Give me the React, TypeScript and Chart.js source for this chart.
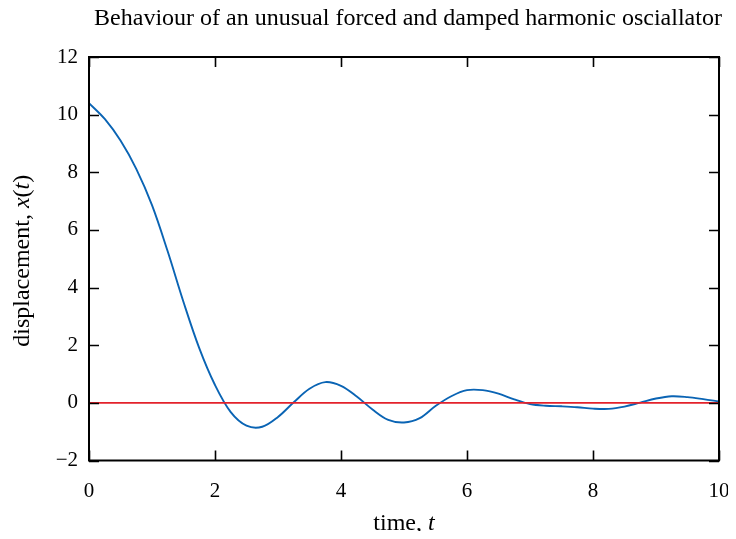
import React, { useEffect, useRef } from "react";
import { Chart, registerables } from "chart.js";

Chart.register(...registerables);

const TITLE = "Behaviour of an unusual forced and damped harmonic osciallator";
const timeValues = [0, 0.25, 0.5, 0.75, 1.0, 1.25, 1.5, 1.75, 2.0, 2.25, 2.5, 2.75, 3.0, 3.25, 3.5, 3.75, 4.0, 4.25, 4.5, 4.75, 5.0, 5.25, 5.5, 5.75, 6.0, 6.25, 6.5, 6.75, 7.0, 7.25, 7.5, 7.75, 8.0, 8.25, 8.5, 8.75, 9.0, 9.25, 9.5, 9.75, 10];
const displacement = [10.4, 9.85, 9.1, 8.12, 6.86, 5.25, 3.5, 1.9, 0.62, -0.32, -0.79, -0.83, -0.49, 0.02, 0.49, 0.72, 0.59, 0.22, -0.23, -0.59, -0.68, -0.53, -0.11, 0.23, 0.44, 0.44, 0.32, 0.12, -0.04, -0.1, -0.12, -0.15, -0.2, -0.21, -0.13, 0.01, 0.15, 0.23, 0.2, 0.13, 0.05];
const equilibriumT = [0, 10];
const equilibriumX = [0, 0];
const xTicks = [0, 2, 4, 6, 8, 10];
const yTicks = [-2, 0, 2, 4, 6, 8, 10, 12];

const FONT = "'Liberation Serif', 'Times New Roman', serif";
const FS = 21;
const TFS = 24;

type Seg = { t: string; it?: boolean };

function drawSegs(ctx: CanvasRenderingContext2D, segs: Seg[], size: number) {
  let total = 0;
  const widths = segs.map((s) => {
    ctx.font = `${s.it ? "italic " : ""}${size}px ${FONT}`;
    const w = ctx.measureText(s.t).width;
    total += w;
    return w;
  });
  let x = -total / 2;
  segs.forEach((s, i) => {
    ctx.font = `${s.it ? "italic " : ""}${size}px ${FONT}`;
    ctx.fillText(s.t, x, 0);
    x += widths[i];
  });
}

const framePlugin = {
  id: "frame",
  afterDatasetsDraw(chart: any) {
    const { ctx, chartArea: a, scales } = chart;
    ctx.save();
    ctx.strokeStyle = "#000";
    ctx.lineWidth = 1.6;
    const tl = 10;
    xTicks.forEach((v) => {
      const px = Math.round(scales.x.getPixelForValue(v)) + 0.5;
      ctx.beginPath();
      ctx.moveTo(px, a.bottom);
      ctx.lineTo(px, a.bottom - tl);
      ctx.moveTo(px, a.top);
      ctx.lineTo(px, a.top + tl);
      ctx.stroke();
    });
    yTicks.forEach((v) => {
      const py = Math.round(scales.y.getPixelForValue(v)) + 0.5;
      ctx.beginPath();
      ctx.moveTo(a.left, py);
      ctx.lineTo(a.left + tl, py);
      ctx.moveTo(a.right, py);
      ctx.lineTo(a.right - tl, py);
      ctx.stroke();
    });
    ctx.lineWidth = 2;
    ctx.strokeRect(a.left, a.top, a.right - a.left, a.bottom - a.top);

    ctx.fillStyle = "#000";
    ctx.textBaseline = "middle";
    ctx.textAlign = "left";
    // title
    ctx.save();
    ctx.translate((a.left + a.right) / 2 + 4, a.top - 38);
    drawSegs(ctx, [{ t: TITLE }], TFS);
    ctx.restore();
    // x title
    ctx.save();
    ctx.translate((a.left + a.right) / 2, a.bottom + 63);
    drawSegs(ctx, [{ t: "time, " }, { t: "t", it: true }], TFS);
    ctx.restore();
    // y title
    ctx.save();
    ctx.translate(a.left - 66, (a.top + a.bottom) / 2 + 2);
    ctx.rotate(-Math.PI / 2);
    drawSegs(ctx, [{ t: "displacement, " }, { t: "x", it: true }, { t: "(" }, { t: "t", it: true }, { t: ")" }], TFS);
    ctx.restore();
    ctx.restore();
  },
};

export default function App() {
  const ref = useRef<HTMLCanvasElement | null>(null);
  useEffect(() => {
    if (!ref.current) return;
    const chart = new Chart(ref.current, {
      type: "line",
      data: {
        datasets: [
          {
            data: equilibriumT.map((t, i) => ({ x: t, y: equilibriumX[i] })),
            borderColor: "#e3222b",
            borderWidth: 1.8,
            pointRadius: 0,
            order: 0,
          },
          {
            data: timeValues.map((t, i) => ({ x: t, y: displacement[i] })),
            borderColor: "#0a64b4",
            borderWidth: 1.9,
            pointRadius: 0,
            tension: 0.35,
            order: 1,
          },
        ],
      },
      options: {
        animation: false,
        responsive: true,
        maintainAspectRatio: false,
        layout: { padding: { left: 0, top: 49, right: 9, bottom: 0 } },
        plugins: { legend: { display: false }, title: { display: false }, tooltip: { enabled: false } },
        scales: {
          x: {
            type: "linear",
            min: 0,
            max: 10,
            afterBuildTicks: (s: any) => { s.ticks = xTicks.map((v) => ({ value: v })); },
            afterFit: (s: any) => { s.height = 70.5; s.paddingLeft = 0; s.paddingRight = 0; },
            grid: { display: false, drawTicks: false },
            border: { display: false },
            ticks: {
              padding: 18,
              color: "#000",
              font: { family: FONT, size: FS },
              maxRotation: 0,
              callback: (v: any) => String(v).replace("-", "\u2212"),
            },
          },
          y: {
            type: "linear",
            min: -2,
            max: 12,
            afterBuildTicks: (s: any) => { s.ticks = yTicks.map((v) => ({ value: v })); },
            afterFit: (s: any) => { s.width = 81; s.paddingTop = 0; s.paddingBottom = 0; },
            grid: { display: false, drawTicks: false },
            border: { display: false },
            ticks: {
              padding: 11,
              color: "#000",
              font: { family: FONT, size: FS },
              callback: (v: any) => String(v).replace("-", "\u2212"),
            },
          },
        },
      },
      plugins: [framePlugin],
    } as any);
    return () => chart.destroy();
  }, []);
  return (
    <div style={{ width: 720, height: 523, position: "relative" }}>
      <canvas ref={ref} />
    </div>
  );
}
